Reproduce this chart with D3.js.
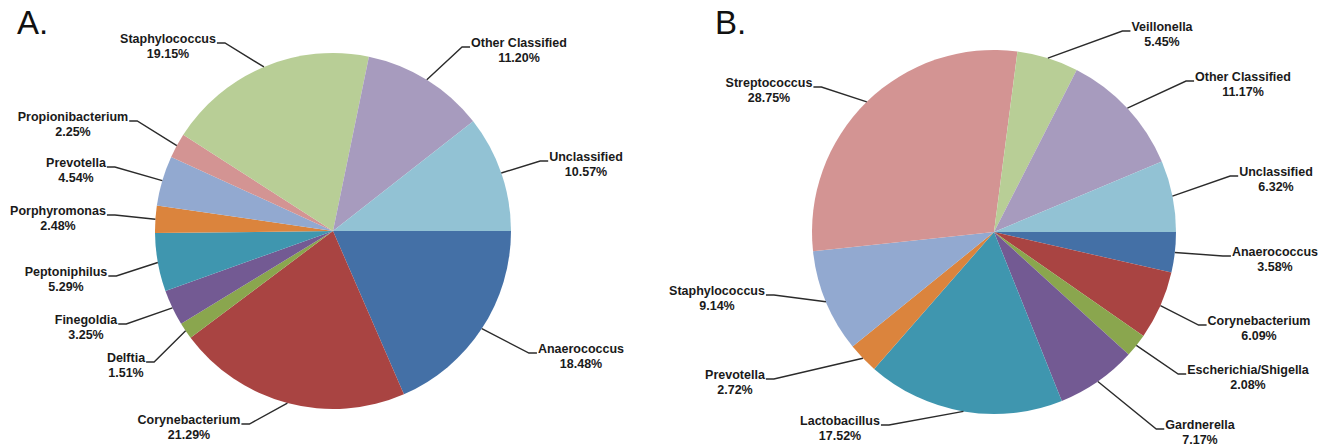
<!DOCTYPE html>
<html>
<head>
<meta charset="utf-8">
<script src="https://cdn.jsdelivr.net/npm/d3@7"></script>
<style>
  html, body { margin: 0; padding: 0; background: #fff; }
  svg { display: block; }
  .lbl { font-family: "Liberation Sans", Arial, sans-serif; font-weight: bold; font-size: 12.5px; fill: #1a1a1a; }
  .panel { font-family: "Liberation Sans", Arial, sans-serif; font-size: 33px; fill: #111; }
</style>
</head>
<body>
<svg id="chart" width="1330" height="447"></svg>
<script>
// Panel A: genus composition (%)
const generaA = ["Anaerococcus", "Corynebacterium", "Delftia", "Finegoldia", "Peptoniphilus",
  "Porphyromonas", "Prevotella", "Propionibacterium", "Staphylococcus", "Other Classified", "Unclassified"];
const valuesA = [18.48, 21.29, 1.51, 3.25, 5.29, 2.48, 4.54, 2.25, 19.15, 11.20, 10.57];

// Panel B: genus composition (%)
const generaB = ["Anaerococcus", "Corynebacterium", "Escherichia/Shigella", "Gardnerella", "Lactobacillus",
  "Prevotella", "Staphylococcus", "Streptococcus", "Veillonella", "Other Classified", "Unclassified"];
const valuesB = [3.58, 6.09, 2.08, 7.17, 17.52, 2.72, 9.14, 28.75, 5.45, 11.17, 6.32];

// Slice colours, in slice order
const palette = ["#4470a6", "#a94442", "#8aa64e", "#735a93", "#3f96af", "#db843d",
  "#92a9d0", "#d39493", "#b8ce96", "#a79bbe", "#92c2d4"];

// Label placement (centre of name line), in slice order
const labelPosA = [[581, 349], [189, 420], [126, 358], [86, 320], [66, 272], [58, 211],
  [76, 163], [73, 117], [168, 39], [519, 43], [586, 157]];
const labelPosB = [[1275, 252], [1259, 321], [1248, 370], [1200, 425], [840, 421], [735, 375],
  [717, 291], [769, 83], [1162, 27], [1243, 77], [1276, 172]];

const svg = d3.select("#chart");

function drawPie(names, values, labelPos, cx, cy, r, panel, panelX) {
  const g = svg.append("g");
  const pie = d3.pie().sort(null).value(d => d)
    .startAngle(Math.PI / 2).endAngle(Math.PI / 2 + 2 * Math.PI);
  const arcs = pie(values);
  const arc = d3.arc().innerRadius(0).outerRadius(r);
  const color = d3.scaleOrdinal().domain(names).range(palette);

  const pg = g.append("g").attr("transform", `translate(${cx},${cy})`);
  pg.selectAll("path").data(arcs).join("path")
    .attr("d", arc)
    .attr("fill", (d, i) => color(names[i]));

  arcs.forEach((d, i) => {
    const [lx, ly] = labelPos[i];
    const mid = (d.startAngle + d.endAngle) / 2;
    const px = cx + r * Math.sin(mid);
    const py = cy - r * Math.cos(mid);

    const t = g.append("text").attr("class", "lbl")
      .attr("x", lx).attr("y", ly).attr("text-anchor", "middle").attr("dy", "0.35em")
      .text(names[i]);
    g.append("text").attr("class", "lbl")
      .attr("x", lx).attr("y", ly + 15).attr("text-anchor", "middle").attr("dy", "0.35em")
      .text(values[i].toFixed(2) + "%");

    const w = t.node().getComputedTextLength();
    const left = lx < cx;
    const ex = left ? lx + w / 2 + 1 : lx - w / 2 - 1;
    const ey = ly + 4;
    const kx = left ? ex + 8 : ex - 8;
    g.append("polyline")
      .attr("points", [[ex, ey], [kx, ey], [px, py]].map(p => p.join(",")).join(" "))
      .attr("fill", "none").attr("stroke", "#2b2b2b").attr("stroke-width", 1.4);
  });

  svg.append("text").attr("class", "panel").attr("x", panelX).attr("y", 34).text(panel);
}

drawPie(generaA, valuesA, labelPosA, 333, 231, 178, "A.", 17);
drawPie(generaB, valuesB, labelPosB, 994, 232, 182, "B.", 715);
</script>
</body>
</html>
